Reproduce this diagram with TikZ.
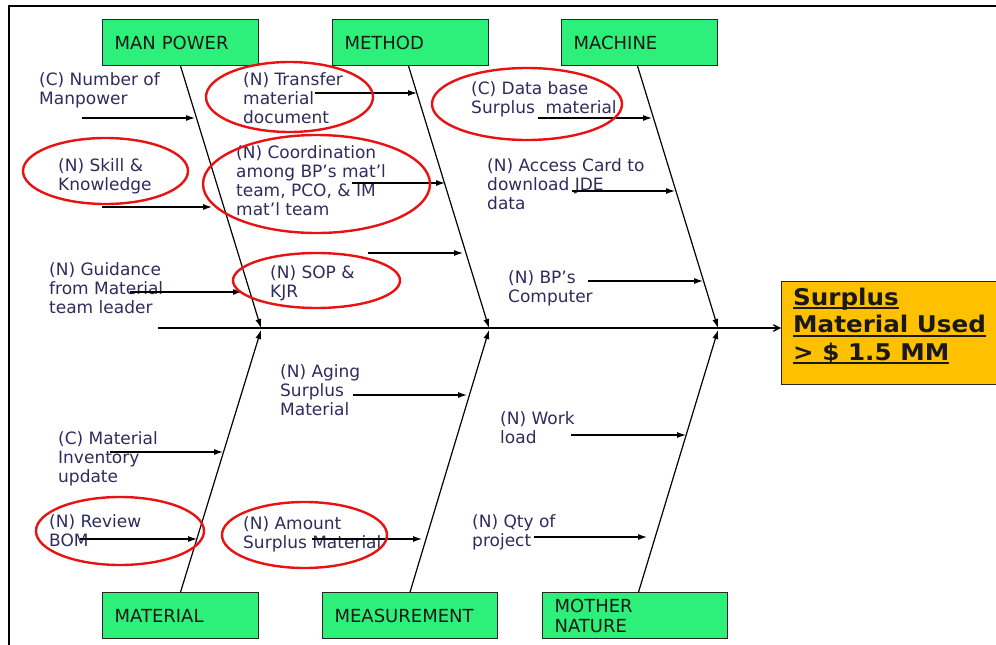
\documentclass[tikz,border=0pt]{standalone}
\usepackage{fontspec}
\setmainfont{DejaVu Sans}
\newfontfamily\goalfont{DejaVu Sans}[FakeStretch=1.07]
\usetikzlibrary{arrows.meta}

\definecolor{boxgreen}{RGB}{44,240,122}
\definecolor{goalorange}{RGB}{255,192,0}
\definecolor{causeblue}{RGB}{46,44,92}
\definecolor{ringred}{RGB}{232,18,18}

% thick underline for the effect text
\newcommand\goalline[1]{\setbox0=\hbox{#1}\rlap{\rule[-4pt]{\wd0}{2pt}}\box0}

\begin{document}
\begin{tikzpicture}[x=1pt,y=-1pt,
  category/.style={draw=black!85, line width=1.1pt, fill=boxgreen, anchor=north west,
    minimum height=46pt, inner xsep=12pt, inner ysep=0pt, align=left, text width=#1,
    font=\fontsize{18}{20}\selectfont, text=black!90},
  % multi-line labels: the base anchor sits on the last line
  cause/.style={anchor=base west, inner sep=0pt, align=left, text=causeblue,
    font=\fontsize{17}{19}\selectfont},
  bone/.style={line width=1.2pt, -{Latex[length=9pt,width=6pt]}},
  twig/.style={line width=1.1pt, -{Latex[length=9pt,width=6pt]}},
  ring/.style={draw=ringred, line width=2.4pt}
]
\useasboundingbox (0,0) rectangle (996,645);

% page frame
\draw[line width=1.4pt] (996,6) -- (9,6) -- (9,650);

% effect box
\node[draw=black!85, line width=1.1pt, fill=goalorange, anchor=north west,
      minimum width=225pt, minimum height=103pt, inner sep=0pt] (goal) at (781,281) {};
\node[anchor=base west, inner sep=0pt, align=left, text=black!90,
      font=\goalfont\fontsize{23}{27.5}\selectfont\bfseries] (goaltext) at (793,360)
  {\goalline{Surplus}\\\goalline{Material Used}\\\goalline{> \$ 1.5 MM}};

% category boxes
\node[category=132pt] (mp)  at (102,19)  {MAN POWER};
\node[category=132pt] (mt)  at (332,19)  {METHOD};
\node[category=132pt] (mc)  at (561,19)  {MACHINE};
\node[category=132pt] (ma)  at (102,592) {MATERIAL};
\node[category=151pt] (ms)  at (322,592) {MEASUREMENT};
\node[category=161pt] (mn)  at (542,592) {MOTHER\\NATURE};

% spine
\coordinate (tail) at (158,328);
\draw[line width=1.2pt, -{Stealth[length=13pt,width=13pt,inset=9pt]}] (tail) -- (goal.west |- tail);

% joints of the bones on the spine
\coordinate (j1) at (261,328);
\coordinate (j2) at (489,328);
\coordinate (j3) at (718,328);
\coordinate (k1) at (261,330);
\coordinate (k2) at (489,330);
\coordinate (k3) at (718,330);

\draw[bone] (mp.south) -- (j1);
\draw[bone] ([xshift=-2pt]mt.south) -- (j2);
\draw[bone] ([xshift=-2pt]mc.south) -- (j3);
\draw[bone] (ma.north) -- (k1);
\draw[bone] (ms.north) -- (k2);
\draw[bone] ([xshift=3.5pt]mn.north) -- (k3);

% cause texts, upper half
\node[cause] (t1) at (39,104)  {(C) Number of\\Manpower};
\node[cause] (t2) at (58,190)  {(N) Skill \&\\Knowledge};
\node[cause] (t3) at (49,313)  {(N) Guidance\\from Material\\team leader};
\node[cause] (t4) at (243,123) {(N) Transfer\\material\\document};
\node[cause] (t5) at (236,215) {(N) Coordination\\among BP’s mat’l\\team, PCO, \& IM\\mat’l team};
\node[cause] (t6) at (270,297) {(N) SOP \&\\KJR};
\node[cause] (t7) at (471,113) {(C) Data base\\Surplus\ \ material};
\node[cause] (t8) at (487,209) {(N) Access Card to\\download JDE\\data};
\node[cause] (t9) at (508,302) {(N) BP’s\\Computer};

% cause texts, lower half
\node[cause] (u1) at (58,482)  {(C) Material\\Inventory\\update};
\node[cause] (u2) at (49,546)  {(N) Review\\BOM};
\node[cause] (u3) at (280,415) {(N) Aging\\Surplus\\Material};
\node[cause] (u4) at (243,548) {(N) Amount\\Surplus Material};
\node[cause] (u5) at (500,443) {(N) Work\\load};
\node[cause] (u6) at (472,546) {(N) Qty of\\project};

% cause arrows onto the bones
\coordinate (a1s) at (82,118);   \coordinate (a1e) at (195,118);
\coordinate (a2s) at (102,207);  \coordinate (a2e) at (212,207);
\coordinate (a3s) at (130,292);  \coordinate (a3e) at (242,292);
\coordinate (a4s) at (315,93);   \coordinate (a4e) at (417,93);
\coordinate (a5s) at (352,183);  \coordinate (a5e) at (445,183);
\coordinate (a6s) at (368,253);  \coordinate (a6e) at (463,253);
\coordinate (a7s) at (538,118);  \coordinate (a7e) at (652,118);
\coordinate (a8s) at (572,191);  \coordinate (a8e) at (675,191);
\coordinate (a9s) at (588,281);  \coordinate (a9e) at (703,281);
\coordinate (b1s) at (110,452);  \coordinate (b1e) at (223,452);
\coordinate (b2s) at (80,539);   \coordinate (b2e) at (197,539);
\coordinate (b3s) at (353,395);  \coordinate (b3e) at (467,395);
\coordinate (b4s) at (312,539);  \coordinate (b4e) at (422,539);
\coordinate (b5s) at (571,435);  \coordinate (b5e) at (686,435);
\coordinate (b6s) at (534,537);  \coordinate (b6e) at (647,537);

\foreach \a in {a1,a2,a3,a4,a5,a6,a7,a8,a9,b1,b2,b3,b4,b5,b6}
  \draw[twig] (\a s) -- (\a e);

% red rings around the highlighted causes
\draw[ring] (289.5,97)  ellipse [x radius=83.5pt, y radius=35pt];
\draw[ring] (105.5,171) ellipse [x radius=82.5pt, y radius=33pt];
\draw[ring] (316.5,184) ellipse [x radius=113.5pt, y radius=49pt];
\draw[ring] (316.5,280.5) ellipse [x radius=83.5pt, y radius=27.5pt];
\draw[ring] (527,104)   ellipse [x radius=95pt, y radius=36pt];
\draw[ring] (120,531)   ellipse [x radius=84pt, y radius=34pt];
\draw[ring] (304.5,535) ellipse [x radius=82.5pt, y radius=33pt];
\end{tikzpicture}
\end{document}
